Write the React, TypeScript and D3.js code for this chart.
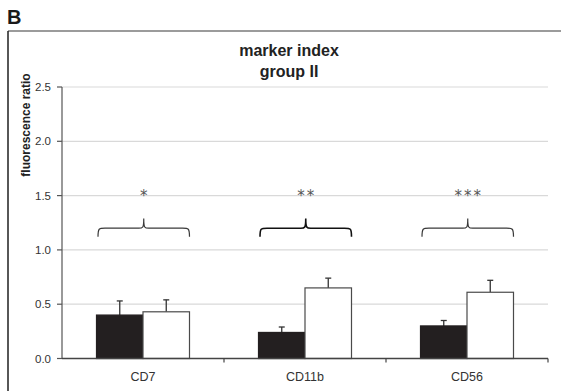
import React from "react";
import * as d3 from "d3";

// Marker index, group II: paired bars per CD marker with SEM whiskers
const categories = ["CD7", "CD11b", "CD56"];
const seriesKeys = ["filled", "open"];
const filledValues = [0.40, 0.24, 0.30];
const filledErrors = [0.13, 0.05, 0.05];
const openValues = [0.43, 0.65, 0.61];
const openErrors = [0.11, 0.09, 0.11];
const significance = ["*", "**", "***"];
const yTicks = [0.0, 0.5, 1.0, 1.5, 2.0, 2.5];

const W = 561;
const H = 391;
const FONT = "Liberation Sans, Arial, Helvetica, sans-serif";

export default function App() {
  const left = 62;
  const right = 548;
  const top = 87;
  const bottom = 358.5;

  const x = d3.scaleBand<string>().domain(categories).range([left, right]).padding(0);
  const xi = d3
    .scaleBand<string>()
    .domain(seriesKeys)
    .range([0, x.bandwidth()])
    .paddingInner(0)
    .paddingOuter(0.742);
  const y = d3.scaleLinear().domain([0, 2.5]).range([bottom, top]);

  const series = [
    { key: "filled", values: filledValues, errors: filledErrors, fill: "#231f20", stroke: "#231f20" },
    { key: "open", values: openValues, errors: openErrors, fill: "#ffffff", stroke: "#4a4a4a" },
  ];

  // curly brace over each bar pair
  const bracePath = (x0: number, x1: number) => {
    const yEnd = y(1.12);
    const yH = y(1.2);
    const yPk = y(1.29);
    const xm = (x0 + x1) / 2;
    const r = 7;
    const r2 = 5;
    return [
      `M${x0},${yEnd}`,
      `C${x0},${yH} ${x0 + 1},${yH} ${x0 + r},${yH}`,
      `L${xm - r2},${yH}`,
      `C${xm - 1},${yH} ${xm},${yH} ${xm},${yPk}`,
      `C${xm},${yH} ${xm + 1},${yH} ${xm + r2},${yH}`,
      `L${x1 - r},${yH}`,
      `C${x1 - 1},${yH} ${x1},${yH} ${x1},${yEnd}`,
    ].join(" ");
  };

  return (
    <svg
      width={W}
      height={H}
      style={{ position: "absolute", left: 0, top: 0, background: "#fff" }}
      fontFamily={FONT}
    >
      <text x={7} y={24} fontSize={20} fontWeight="bold" fill="#1a1a1a">B</text>

      {/* panel frame */}
      <line x1={8} y1={31} x2={W} y2={31} stroke="#7a7a7a" strokeWidth={1.6} />
      <line x1={8} y1={31} x2={8} y2={H} stroke="#1f1f1f" strokeWidth={1.5} />

      <text x={289} y={56} fontSize={16} fontWeight="bold" textAnchor="middle" fill="#222">marker index</text>
      <text x={289} y={77} fontSize={16} fontWeight="bold" textAnchor="middle" fill="#222">group II</text>

      <text
        transform={`translate(30,125) rotate(-90)`}
        fontSize={12}
        fontWeight="bold"
        textAnchor="middle"
        fill="#222"
      >
        fluorescence ratio
      </text>

      {/* gridlines */}
      {yTicks.filter((t) => t > 0).map((t) => (
        <line key={t} x1={left} x2={right} y1={y(t)} y2={y(t)} stroke="#d9d9d9" strokeWidth={1.2} />
      ))}

      {/* y axis */}
      <line x1={left} x2={left} y1={y(2.5)} y2={bottom} stroke="#555" strokeWidth={1.2} />
      {yTicks.map((t) => (
        <g key={t}>
          <line x1={left - 5} x2={left} y1={y(t)} y2={y(t)} stroke="#555" strokeWidth={1.2} />
          <text x={left - 11} y={y(t)} dy="0.35em" fontSize={11.5} textAnchor="end" fill="#333">
            {d3.format(".1f")(t)}
          </text>
        </g>
      ))}

      {/* bars */}
      {categories.map((c, i) => (
        <g key={c}>
          {series.map((s) => {
            const bx = (x(c) as number) + (xi(s.key) as number);
            const bw = xi.bandwidth();
            const v = s.values[i];
            const e = s.errors[i];
            const cx = bx + bw / 2;
            return (
              <g key={s.key}>
                <line x1={cx} x2={cx} y1={y(v)} y2={y(v + e)} stroke="#333" strokeWidth={1.3} />
                <line x1={cx - 3} x2={cx + 3} y1={y(v + e)} y2={y(v + e)} stroke="#333" strokeWidth={1.3} />
                <rect x={bx} y={y(v)} width={bw} height={bottom - y(v)} fill={s.fill} stroke={s.stroke} strokeWidth={1.2} />
              </g>
            );
          })}
        </g>
      ))}

      {/* x axis */}
      <line x1={left} x2={right} y1={bottom} y2={bottom} stroke="#444" strokeWidth={1.3} />
      {categories.map((c) => (
        <line key={c} x1={(x(c) as number) + x.bandwidth()} x2={(x(c) as number) + x.bandwidth()} y1={bottom} y2={bottom + 4} stroke="#444" strokeWidth={1.2} />
      ))}
      {categories.map((c) => (
        <text key={c} x={(x(c) as number) + x.bandwidth() / 2} y={380.5} fontSize={12.5} textAnchor="middle" fill="#333">
          {c}
        </text>
      ))}

      {/* significance braces */}
      {categories.map((c, i) => {
        const x0 = (x(c) as number) + (xi("filled") as number) + 1.5;
        const x1 = (x(c) as number) + (xi("open") as number) + xi.bandwidth();
        const xm = (x0 + x1) / 2;
        return (
          <g key={c}>
            <path d={bracePath(x0, x1)} fill="none" stroke={i === 1 ? "#111" : "#3a3a3a"} strokeWidth={i === 1 ? 1.6 : 1.2} />
            <text
              x={xm + 1}
              y={y(1.53)}
              dy="0.6em"
              fontFamily="DejaVu Sans, sans-serif"
              fontSize={15}
              letterSpacing={2}
              textAnchor="middle"
              fill="#555"
            >
              {significance[i]}
            </text>
          </g>
        );
      })}
    </svg>
  );
}
